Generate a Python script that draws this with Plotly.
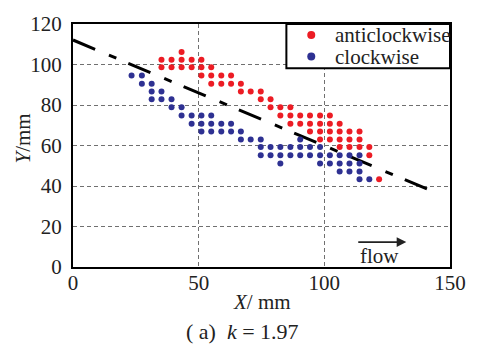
import plotly.graph_objects as go

# ---------------- data ----------------
anti_x = [43.2,
          35.2, 39.2, 43.2, 47.2, 51.1,
          35.2, 39.2, 43.2, 47.2, 51.1, 55.0,
          51.1, 55.0, 59.0, 62.9,
          55.0, 59.0, 62.9, 66.8,
          66.8, 70.7, 74.7,
          74.7, 78.6,
          78.6, 82.5, 86.5,
          82.5, 86.5, 90.4, 94.3, 98.3, 102.2,
          86.5, 90.4, 94.3, 98.3, 102.2, 106.1,
          94.3, 98.3, 102.2, 106.1, 110.0, 114.0,
          98.3, 102.2, 106.1, 110.0, 114.0,
          106.1, 110.0, 114.0, 117.9,
          117.9,
          121.8]
anti_y = [106.2,
          102.3, 102.3, 102.3, 102.3, 102.3,
          98.7, 98.7, 98.7, 98.7, 98.7, 98.7,
          94.6, 94.6, 94.6, 94.6,
          90.5, 90.5, 90.5, 90.5,
          86.7, 86.7, 86.7,
          82.8, 82.8,
          78.9, 78.9, 78.9,
          74.8, 74.8, 74.8, 74.8, 74.8, 74.8,
          70.8, 70.8, 70.8, 70.8, 70.8, 70.8,
          66.9, 66.9, 66.9, 66.9, 66.9, 66.9,
          63.0, 63.0, 63.0, 63.0, 63.0,
          59.2, 59.2, 59.2, 59.2,
          55.2,
          43.3]

clock_x = [23.3, 27.4,
           27.4, 31.3,
           31.3, 35.2,
           31.3, 35.2, 39.2,
           39.2, 43.2,
           43.2, 47.2, 51.1, 55.0,
           47.2, 51.1, 55.0, 59.0, 62.9,
           51.1, 55.0, 59.0, 62.9, 66.8,
           66.8, 70.7, 74.7, 90.4,
           74.7, 78.6, 82.5, 86.5, 90.4, 94.3, 98.3,
           74.7, 78.6, 82.5, 86.5, 90.4, 94.3, 98.3, 102.2, 106.1, 110.0, 114.0,
           82.5, 98.3, 102.2, 106.1, 110.0, 114.0,
           106.1, 110.0, 114.0,
           114.0, 117.9]
clock_y = [94.6, 94.6,
           90.5, 90.5,
           86.7, 86.7,
           82.8, 82.8, 82.8,
           78.9, 78.9,
           74.8, 74.8, 74.8, 74.8,
           70.8, 70.8, 70.8, 70.8, 70.8,
           66.9, 66.9, 66.9, 66.9, 66.9,
           63.0, 63.0, 63.0, 63.0,
           59.2, 59.2, 59.2, 59.2, 59.2, 59.2, 59.2,
           55.2, 55.2, 55.2, 55.2, 55.2, 55.2, 55.2, 55.2, 55.2, 55.2, 55.2,
           51.1, 51.1, 51.1, 51.1, 51.1, 51.1,
           47.2, 47.2, 47.2,
           43.3, 43.3]

# dividing line (dash-dot)
line_x = [0, 142.8]
line_y = [112.1, 37.5]

# flow arrow
flow_arrow_x = [112.9, 132.6]
flow_arrow_y = [12.3, 12.3]
flow_text_pos = (121.8, 5.6)

series_names = ["anticlockwise", "clockwise"]
series_colors = ["#ec1c24", "#2e3192"]

x_ticks = [0, 50, 100, 150]
y_ticks = [0, 20, 40, 60, 80, 100, 120]

FONT = "Liberation Serif, Times New Roman, DejaVu Serif, serif"
TXT = "#222222"

fig = go.Figure()
fig.add_trace(go.Scatter(x=line_x, y=line_y, mode="lines",
                         line=dict(color="black", width=3, dash="24px,15px,8px,13px"),
                         showlegend=False, hoverinfo="skip"))
fig.add_trace(go.Scatter(x=anti_x, y=anti_y, mode="markers", name=series_names[0],
                         marker=dict(color=series_colors[0], size=6), showlegend=False))
fig.add_trace(go.Scatter(x=clock_x, y=clock_y, mode="markers", name=series_names[1],
                         marker=dict(color=series_colors[1], size=6), showlegend=False))

axis_common = dict(showline=True, linecolor="black", linewidth=2, mirror=True,
                   showgrid=True, gridcolor="#707070", gridwidth=1, griddash="4px,3px",
                   zeroline=False, ticks="",
                   tickfont=dict(family=FONT, size=21, color=TXT))
fig.update_xaxes(range=[0, 150], tickvals=x_ticks, ticktext=[str(v) for v in x_ticks],
                 ticklabelstandoff=-4, **axis_common)
fig.update_yaxes(range=[0, 120], tickvals=y_ticks, ticktext=[str(v) for v in y_ticks],
                 ticklabelstandoff=5, **axis_common)

annotations = []
# axis titles
annotations.append(dict(text="<i>X</i>/ mm", xref="paper", yref="paper", x=0.5, y=0,
                        xanchor="center", yanchor="middle", yshift=-35, showarrow=False,
                        font=dict(family=FONT, size=21, color=TXT)))
annotations.append(dict(text="<i>Y</i>/mm", xref="paper", yref="paper", x=0, y=0.5,
                        xanchor="center", yanchor="middle", xshift=-51, yshift=7,
                        textangle=-90, showarrow=False,
                        font=dict(family=FONT, size=21, color=TXT)))
# caption
annotations.append(dict(text="( a)  <i>k</i> = 1.97", xref="paper", yref="paper", x=0.45, y=0,
                        xanchor="center", yanchor="middle", yshift=-64, showarrow=False,
                        font=dict(family=FONT, size=22, color=TXT)))
# flow arrow
annotations.append(dict(x=flow_arrow_x[1], y=flow_arrow_y[1], ax=flow_arrow_x[0], ay=flow_arrow_y[0],
                        xref="x", yref="y", axref="x", ayref="y", text="", showarrow=True,
                        arrowhead=2, arrowsize=1.2, arrowwidth=1.6, arrowcolor="#222"))
annotations.append(dict(x=flow_text_pos[0], y=flow_text_pos[1], xref="x", yref="y", text="flow",
                        showarrow=False, font=dict(family=FONT, size=21, color=TXT)))

# manual legend
shapes = [dict(type="rect", xref="paper", yref="paper", x0=0.566, x1=1.0, y0=0.818, y1=1.0,
               line=dict(color="black", width=2), fillcolor="white", layer="above")]
leg_rows = [0.955, 0.866]
for name, col, yy in zip(series_names, series_colors, leg_rows):
    shapes.append(dict(type="circle", xref="paper", yref="paper", xsizemode="pixel",
                       ysizemode="pixel", xanchor=0.632, yanchor=yy, x0=-4, x1=4, y0=-4, y1=4,
                       fillcolor=col, line=dict(width=0), layer="above"))
    annotations.append(dict(text=name, xref="paper", yref="paper", x=0.690, y=yy,
                            xanchor="left", yanchor="middle", showarrow=False,
                            font=dict(family=FONT, size=21, color=TXT)))

fig.update_layout(width=478, height=345, margin=dict(l=73, r=24, t=23, b=78),
                  paper_bgcolor="white", plot_bgcolor="white",
                  showlegend=False, annotations=annotations, shapes=shapes)

fig.write_html("out.html")
